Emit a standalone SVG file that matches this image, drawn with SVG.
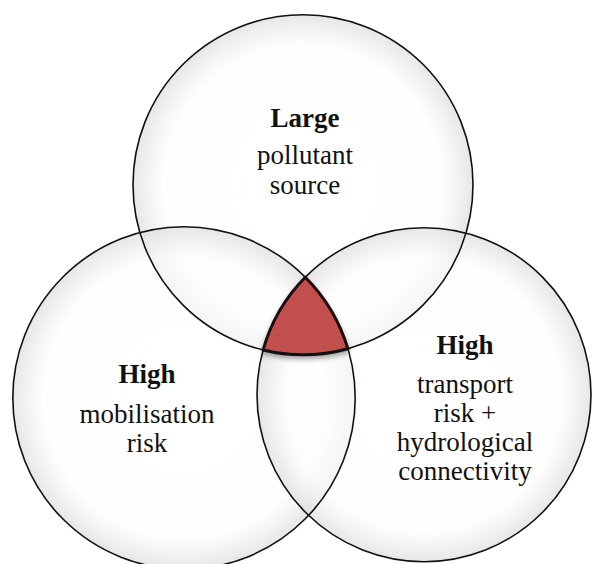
<svg xmlns="http://www.w3.org/2000/svg" width="592" height="564" viewBox="0 0 592 564">
<style>
.c{fill:url(#g);stroke:none}
.o{fill:none;stroke:#111;stroke-width:1.6}
text{font-size:27px;fill:#111;text-anchor:middle}
.b{font-weight:bold}
</style>
<defs>
<radialGradient id="g" cx="0.5" cy="0.5" r="0.5">
<stop offset="0" stop-color="#ffffff" stop-opacity="0.6"/>
<stop offset="0.82" stop-color="#fdfdfd" stop-opacity="0.6"/>
<stop offset="1" stop-color="#dcdcdc" stop-opacity="0.7"/>
</radialGradient>
<filter id="sh" x="-20%" y="-20%" width="140%" height="150%">
<feDropShadow dx="0" dy="3" stdDeviation="2.5" flood-color="#000" flood-opacity="0.35"/>
</filter>
</defs>
<rect width="592" height="564" fill="#fff"/>
<g id="fills">
<circle class="c" cx="303" cy="184.7" r="170"/>
<circle class="c" cx="184" cy="398" r="171.2"/>
<circle class="c" cx="424" cy="394.7" r="167"/>
</g>
<g id="node-source" font-family="Liberation Serif">
<circle class="o" cx="303" cy="184.7" r="170"/>
<text class="b" x="305" y="127">Large</text>
<text x="305" y="164">pollutant</text>
<text x="305" y="194">source</text>
</g>
<g id="node-mobilisation" font-family="Liberation Serif">
<circle class="o" cx="184" cy="398" r="171.2"/>
<text class="b" x="147" y="383">High</text>
<text x="147" y="423">mobilisation</text>
<text x="147" y="452">risk</text>
</g>
<g id="node-transport" font-family="Liberation Serif">
<circle class="o" cx="424" cy="394.7" r="167"/>
<text class="b" x="465" y="354">High</text>
<text x="465" y="393">transport</text>
<text x="465" y="422">risk +</text>
<text x="465" y="451">hydrological</text>
<text x="465" y="480">connectivity</text>
</g>
<g id="node-intersection">
<path d="M305.3,277.2 A167,167 0 0 0 263.1,350 A170,170 0 0 0 347.9,348.7 A171.2,171.2 0 0 0 305.3,277.2 Z" fill="#c0504d" stroke="#1a0d0d" stroke-width="3" stroke-linejoin="round" filter="url(#sh)"/>
</g>
<g id="connectors"></g>
</svg>
